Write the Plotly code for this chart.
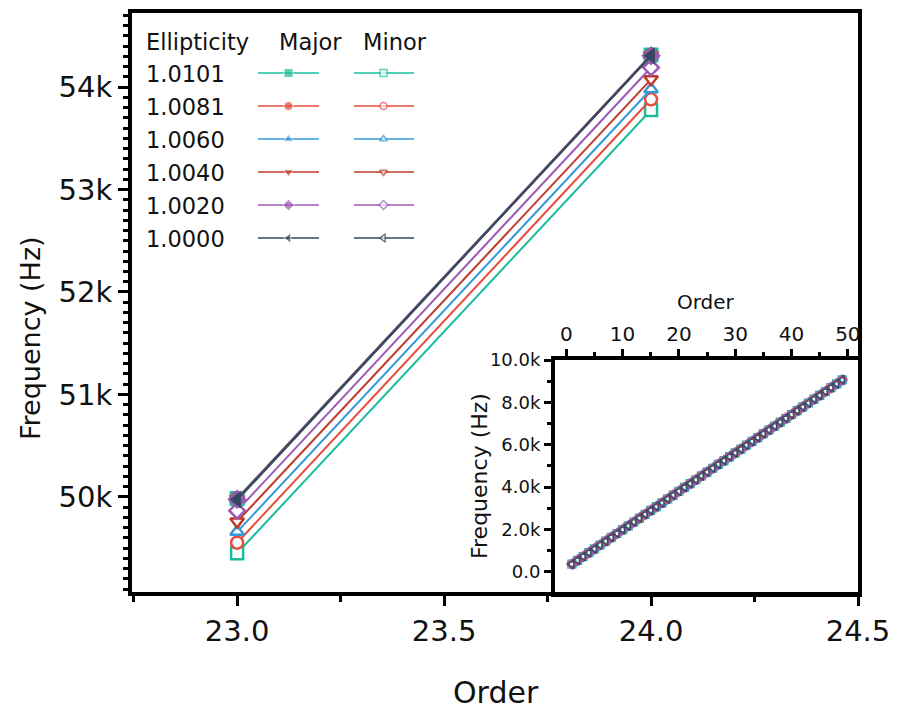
import plotly.graph_objects as go

# ---------------- data ----------------
ellipticity = ["1.0101", "1.0081", "1.0060", "1.0040", "1.0020", "1.0000"]
orders = [23, 24]

major_10101 = [49985, 54312]
major_10081 = [49983, 54310]
major_10060 = [49981, 54309]
major_10040 = [49979, 54307]
major_10020 = [49977, 54306]
major_10000 = [49975, 54305]

minor_10101 = [49451, 53776]
minor_10081 = [49554, 53880]
minor_10060 = [49660, 53978]
minor_10040 = [49760, 54075]
minor_10020 = [49866, 54190]
minor_10000 = [49970, 54305]

inset_orders = list(range(1, 50))
inset_freq = [360, 541, 722, 904, 1085, 1266, 1447, 1628, 1810, 1991,
              2172, 2353, 2534, 2716, 2897, 3078, 3259, 3440, 3622, 3803,
              3984, 4165, 4346, 4528, 4709, 4890, 5071, 5252, 5434, 5615,
              5796, 5977, 6158, 6340, 6521, 6702, 6883, 7064, 7246, 7427,
              7608, 7789, 7970, 8152, 8333, 8514, 8695, 8876, 9058]

main_y_ticks = [50000, 51000, 52000, 53000, 54000]
inset_y_ticks = [0, 2000, 4000, 6000, 8000, 10000]
inset_y_labels = ["0.0", "2.0k", "4.0k", "6.0k", "8.0k", "10.0k"]

major_series = [major_10101, major_10081, major_10060, major_10040, major_10020, major_10000]
minor_series = [minor_10101, minor_10081, minor_10060, minor_10040, minor_10020, minor_10000]

# ---------------- styles ----------------
colors = ["#1abc9c", "#e74c3c", "#3498db", "#c0392b", "#9b59b6", "#34495e"]
symbols = ["square", "circle", "triangle-up", "triangle-down", "diamond", "triangle-left"]
FONT = "DejaVu Sans"
W, H = 898, 713

fig = go.Figure()

# minor (hollow) markers first
for i in range(6):
    fig.add_trace(go.Scatter(
        x=orders, y=minor_series[i], mode="lines+markers",
        line=dict(color=colors[i], width=2),
        marker=dict(symbol=symbols[i], size=12, color="white",
                    line=dict(color=colors[i], width=2.5)),
        showlegend=False, xaxis="x", yaxis="y", cliponaxis=False))
# major (filled) markers on top
for i in range(6):
    fig.add_trace(go.Scatter(
        x=orders, y=major_series[i], mode="lines+markers",
        line=dict(color=colors[i], width=2),
        marker=dict(symbol=symbols[i], size=15, color=colors[i]),
        showlegend=False, xaxis="x", yaxis="y", cliponaxis=False))

# inset
for i in range(6):
    fig.add_trace(go.Scatter(
        x=inset_orders, y=inset_freq, mode="markers",
        marker=dict(symbol=symbols[i] + "-open", size=8, color=colors[i],
                    line=dict(width=1.2)),
        showlegend=False, xaxis="x2", yaxis="y2"))

# custom legend (overlay axis in pixel units)
row_y = [73 + 33 * k for k in range(6)]
for i in range(6):
    fig.add_trace(go.Scatter(
        x=[258, 288.5, 319], y=[row_y[i]] * 3, mode="lines+markers",
        line=dict(color=colors[i], width=1.5),
        marker=dict(symbol=symbols[i], size=[0, 9, 0], color=colors[i]),
        showlegend=False, xaxis="x3", yaxis="y3", hoverinfo="skip"))
    fig.add_trace(go.Scatter(
        x=[354, 383.5, 414], y=[row_y[i]] * 3, mode="lines+markers",
        line=dict(color=colors[i], width=1.5),
        marker=dict(symbol=symbols[i], size=[0, 7, 0], color="white",
                    line=dict(color=colors[i], width=1.5)),
        showlegend=False, xaxis="x3", yaxis="y3", hoverinfo="skip"))

annotations = []
legend_font = dict(family=FONT, size=22.5, color="#111")
annotations.append(dict(x=144, y=42, xref="x3", yref="y3", text="Ellipticity",
                        showarrow=False, xanchor="left", yanchor="middle", font=legend_font))
annotations.append(dict(x=310, y=42, xref="x3", yref="y3", text="Major",
                        showarrow=False, xanchor="center", yanchor="middle", font=legend_font))
annotations.append(dict(x=395, y=42, xref="x3", yref="y3", text="Minor",
                        showarrow=False, xanchor="center", yanchor="middle", font=legend_font))
for i in range(6):
    annotations.append(dict(x=144, y=row_y[i] + 1, xref="x3", yref="y3", text=ellipticity[i],
                            showarrow=False, xanchor="left", yanchor="middle", font=legend_font))

# axis titles
annotations.append(dict(x=496 / W, y=1 - 692 / H, xref="paper", yref="paper", text="Order",
                        showarrow=False, xanchor="center", yanchor="middle",
                        font=dict(family=FONT, size=30, color="#111")))
annotations.append(dict(x=30 / W, y=1 - 338 / H, xref="paper", yref="paper", text="Frequency (Hz)",
                        showarrow=False, xanchor="center", yanchor="middle", textangle=-90,
                        font=dict(family=FONT, size=27, color="#111")))
annotations.append(dict(x=706 / W, y=1 - 302 / H, xref="paper", yref="paper", text="Order",
                        showarrow=False, xanchor="center", yanchor="middle",
                        font=dict(family=FONT, size=20, color="#111")))
annotations.append(dict(x=479 / W, y=1 - 476 / H, xref="paper", yref="paper", text="Frequency (Hz)",
                        showarrow=False, xanchor="center", yanchor="middle", textangle=-90,
                        font=dict(family=FONT, size=22, color="#111")))

axis_common = dict(showgrid=False, zeroline=False, showline=True, linecolor="black",
                   mirror=True, ticks="outside", tickcolor="black", automargin=False)

fig.update_layout(
    width=W, height=H,
    margin=dict(l=0, r=0, t=0, b=0, autoexpand=False),
    paper_bgcolor="white", plot_bgcolor="rgba(0,0,0,0)",
    showlegend=False,
    xaxis=dict(domain=[132 / W, 858 / W], range=[22.746, 24.5], anchor="y",
               tick0=23, dtick=0.5, tickformat=".1f", ticklen=10, tickwidth=3, linewidth=4,
               tickfont=dict(family=FONT, size=29, color="#111"),
               minor=dict(ticks="outside", dtick=0.25, tick0=23, ticklen=6, tickwidth=3,
                          tickcolor="black"),
               **axis_common),
    yaxis=dict(domain=[1 - 592 / H, 1 - 13 / H], range=[49073, 54722], anchor="x",
               tickvals=main_y_ticks, tickformat="~s", ticklen=10, tickwidth=3, linewidth=4,
               tickfont=dict(family=FONT, size=29, color="#111"),
               minor=dict(ticks="outside", dtick=100, tick0=50000, ticklen=5, tickwidth=2.5,
                          tickcolor="black"),
               **axis_common),
    xaxis2=dict(domain=[555 / W, 858 / W], range=[-2, 51.8], anchor="y2", side="top",
                tick0=0, dtick=10, ticklen=7, tickwidth=3, linewidth=4,
                tickfont=dict(family=FONT, size=20, color="#111"),
                minor=dict(ticks="outside", dtick=5, tick0=0, ticklen=4, tickwidth=2.5,
                           tickcolor="black"),
                **axis_common),
    yaxis2=dict(domain=[1 - 593 / H, 1 - 360 / H], range=[-1000, 10000], anchor="x2",
                tickvals=inset_y_ticks, ticktext=inset_y_labels, ticklen=7, tickwidth=3,
                linewidth=4, tickfont=dict(family=FONT, size=18, color="#111"),
                minor=dict(ticks="outside", dtick=1000, tick0=0, ticklen=4, tickwidth=2.5,
                           tickcolor="black"),
                **axis_common),
    xaxis3=dict(domain=[0, 1], range=[0, W], anchor="y3", visible=False, fixedrange=True,
                automargin=False),
    yaxis3=dict(domain=[0, 1], range=[H, 0], anchor="x3", visible=False, fixedrange=True,
                automargin=False),
    annotations=annotations,
)

fig.write_html("out.html")
